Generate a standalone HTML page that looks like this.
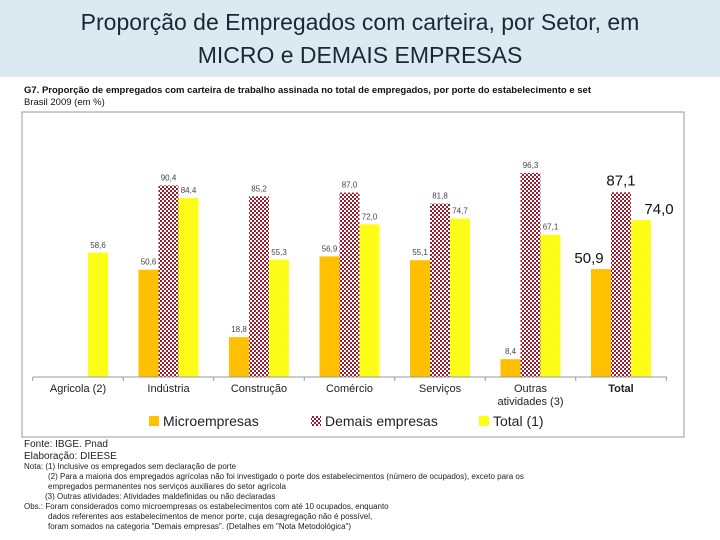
<!DOCTYPE html>
<html><head><meta charset="utf-8"><style>
body{margin:0;width:720px;height:540px;background:#fff;overflow:hidden;font-family:"Liberation Sans",sans-serif;position:relative}
#band{position:absolute;left:0;top:0;width:720px;height:77px;background:#dbeaf1}
#band div{text-align:center;font-size:23px;color:#1c2733;line-height:33px}
#band .l1{padding-top:6px}
svg{position:absolute;left:0;top:0}
</style></head><body>
<div id="band">
<div class="l1">Proporção de Empregados com carteira, por Setor, em</div>
<div>MICRO e DEMAIS EMPRESAS</div>
</div>
<svg id="chart" width="720" height="540">
<defs>
<pattern id="chk" width="4" height="4" patternUnits="userSpaceOnUse">
<rect width="4" height="4" fill="#fff"/><rect width="2" height="2" fill="#9b1c2c"/><rect x="2" y="2" width="2" height="2" fill="#9b1c2c"/>
</pattern>
<pattern id="yel" width="4" height="4" patternUnits="userSpaceOnUse">
<rect width="4" height="4" fill="#ffff00"/><rect width="1" height="1" fill="#ffff99"/><rect x="2" y="2" width="1" height="1" fill="#ffff99"/>
</pattern>
</defs>
<text x="24" y="93" font-size="9.5" font-weight="bold" fill="#111">G7. Proporção de empregados com carteira de trabalho assinada no total de empregados, por porte do estabelecimento e set</text>
<text x="24" y="105" font-size="9.5" fill="#111">Brasil 2009 (em %)</text>
<rect x="22" y="112" width="662" height="325" fill="none" stroke="#999" stroke-width="1"/>
<g id="bars"></g>
<line x1="33" y1="377" x2="667" y2="377" stroke="#999"/>
<g id="legend" font-size="14" fill="#222">
<rect x="149" y="416" width="10" height="10" fill="#ffc000"/>
<text x="163" y="426">Microempresas</text>
<rect x="311" y="416" width="10" height="10" fill="url(#chk)"/>
<text x="325" y="426">Demais empresas</text>
<rect x="479" y="416" width="10" height="10" fill="url(#yel)"/>
<text x="493" y="426">Total (1)</text>
</g>
<g font-size="10" fill="#222">
<text x="24" y="447">Fonte: IBGE. Pnad</text>
<text x="24" y="459">Elaboração: DIEESE</text>
<g font-size="8">
<text x="24" y="469">Nota: (1) Inclusive os empregados sem declaração de porte</text>
<text x="48" y="479">(2) Para a maioria dos empregados agrícolas não foi investigado o porte dos estabelecimentos (número de ocupados), exceto para os</text>
<text x="48" y="489">empregados permanentes nos serviços auxiliares do setor agrícola</text>
<text x="45" y="499">(3) Outras atividades: Atividades maldefinidas ou não declaradas</text>
<text x="24" y="509">Obs.: Foram considerados como microempresas os estabelecimentos com até 10 ocupados, enquanto</text>
<text x="48" y="519">dados referentes aos estabelecimentos de menor porte, cuja desagregação não é possível,</text>
<text x="48" y="529">foram somados na categoria "Demais empresas". (Detalhes em "Nota Metodológica")</text>
</g></g>
</svg>
<script>
const categories=["Agricola (2)","Indústria","Construção","Comércio","Serviços","Outras|atividades (3)","Total"];
const micro=[null,50.6,18.8,56.9,55.1,8.4,50.9];
const demais=[null,90.4,85.2,87.0,81.8,96.3,87.1];
const total=[58.6,84.4,55.3,72.0,74.7,67.1,74.0];
const fmt=v=>v.toFixed(1).replace('.',',');
const NS="http://www.w3.org/2000/svg";
const g=document.getElementById('bars');
const svg=document.getElementById('chart');
const base=377, k=2.12, c0=78, step=90.5, bw=20;
const xc=i=>c0+step*i;
const y=v=>base-v*k;
function mk(t,a){const e=document.createElementNS(NS,t);for(const n in a)e.setAttribute(n,a[n]);return e;}
const series=[[micro,'#ffc000',-30,'micro'],[demais,'url(#chk)',-10,'demais'],[total,'url(#yel)',10,'total']];
categories.forEach((c,i)=>{
  const big=i===categories.length-1;
  series.forEach(([arr,fill,off,nm])=>{
    const v=arr[i]; if(v==null) return;
    const x=xc(i)+off;
    const r=mk('rect',{x:x,y:y(v),width:bw,height:v*k,fill:fill});
    
    
    g.appendChild(r);
    let lx=x+bw/2, ly=y(v)-5;
    if(big){ if(nm==='micro'){lx=x-2;ly=y(v)-6;} if(nm==='demais'){ly=y(v)-7;} if(nm==='total'){lx=x+bw+8;ly=y(v)-6;} }
    const t=mk('text',{x:lx,y:ly,'font-size':big?15:8,'text-anchor':'middle',fill:big?'#111':'#444'});
    t.textContent=fmt(v);
    
    
    g.appendChild(t);
  });
  const parts=c.split('|');
  parts.forEach((p,j)=>{
    const t=mk('text',{x:xc(i),y:392+j*13,'font-size':11,'text-anchor':'middle',fill:'#222','font-weight':big?'bold':'normal'});
    t.textContent=p;
    
    
    svg.appendChild(t);
  });
  const tk=mk('line',{x1:xc(i)-step/2,y1:377,x2:xc(i)-step/2,y2:381,stroke:'#999'});
  
  
  svg.appendChild(tk);
});
const tkEnd=mk('line',{x1:xc(6)+step/2,y1:377,x2:xc(6)+step/2,y2:381,stroke:'#999'});


svg.appendChild(tkEnd);
</script>
</body></html>
